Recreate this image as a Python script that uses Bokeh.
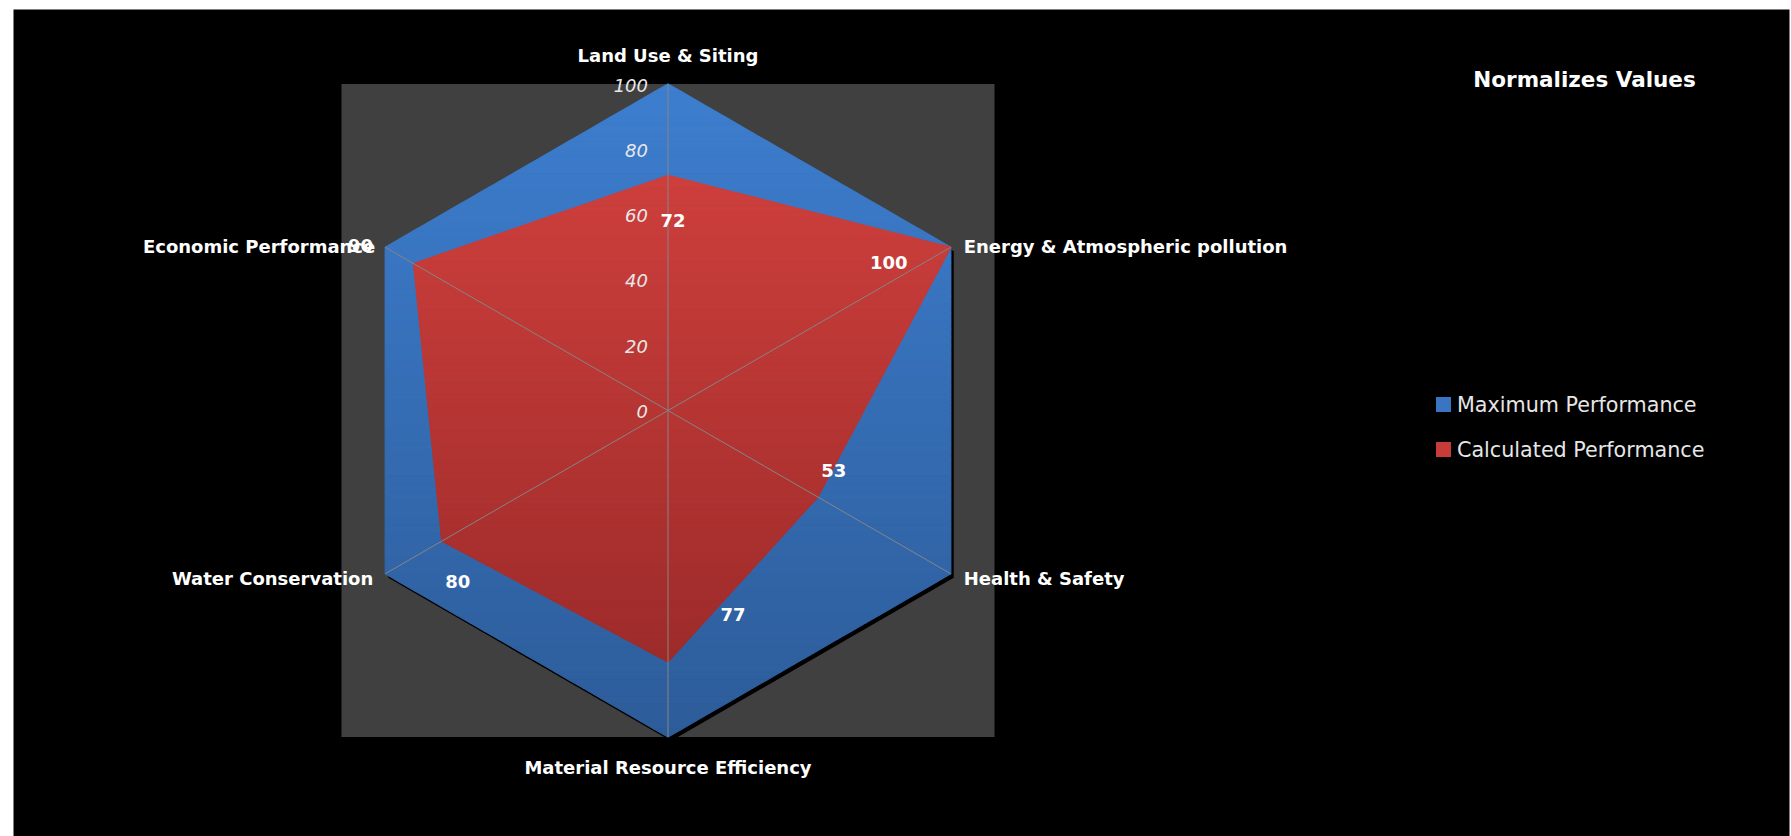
import numpy as np
from bokeh.plotting import figure
from bokeh.models import Range1d, ColumnDataSource
from bokeh.core.properties import value
from bokeh.embed import file_html
from bokeh.resources import INLINE

# ---------------- data ----------------
categories = ["Land Use & Siting", "Energy & Atmospheric pollution", "Health & Safety",
              "Material Resource Efficiency", "Water Conservation", "Economic Performance"]
maximum_performance = [100, 100, 100, 100, 100, 100]
calculated_performance = [72, 100, 53, 77, 80, 90]
axis_ticks = [0, 20, 40, 60, 80, 100]
series_names = ["Maximum Performance", "Calculated Performance"]
chart_title = "Normalizes Values"

# ---------------- layout / style ----------------
PAGE_OFF = 0
W, H = 1791, 836
BL, BR, BT, BB = 13, 2, 9, 0
FW, FH = W - BL - BR, H - BT - BB
PX = 3.265                      # pixels per value unit
CXp, CYp = 667.5, 410.0         # radar centre in page pixels
CX, CY = CXp - PAGE_OFF - BL, CYp - PAGE_OFF - BT
FONT = "DejaVu Sans"

def page_to_data(px, py):
    return (px - CXp) / PX, (CYp - py) / PX

p = figure(width=W, height=H,
           x_range=Range1d(-CX / PX, (FW - CX) / PX),
           y_range=Range1d(-(FH - CY) / PX, CY / PX),
           output_backend="svg", toolbar_location=None,
           x_axis_location=None, y_axis_location=None,
           min_border_left=BL, min_border_right=BR, min_border_top=BT, min_border_bottom=BB,
           background_fill_color="black", border_fill_color="white")
p.grid.visible = False
p.outline_line_color = None

R = max(axis_ticks)
n = len(categories)
ang = np.deg2rad(90 - 360.0 / n * np.arange(n))
ux, uy = np.cos(ang), np.sin(ang)

# plot area
p.quad(left=-R, right=R, bottom=-R, top=R, fill_color="#404040", line_color=None)

def clip_band(poly, y_lo, y_hi):
    def clip_half(pts, keep, yc):
        out = []
        m = len(pts)
        for i in range(m):
            a, b = pts[i], pts[(i + 1) % m]
            ka, kb = keep(a), keep(b)
            if ka:
                out.append(a)
            if ka != kb:
                t = (yc - a[1]) / (b[1] - a[1])
                out.append((a[0] + t * (b[0] - a[0]), yc))
        return out
    pts = clip_half(poly, lambda q: q[1] >= y_lo, y_lo)
    if pts:
        pts = clip_half(pts, lambda q: q[1] <= y_hi, y_hi)
    return pts

def hex2rgb(h):
    h = h.lstrip("#")
    return np.array([int(h[i:i + 2], 16) for i in (0, 2, 4)], dtype=float)

def gradient_patches(xs, ys, c_top, c_bot, nb=80):
    poly = list(zip(xs, ys))
    ylo, yhi = min(ys), max(ys)
    ct, cb = hex2rgb(c_top), hex2rgb(c_bot)
    PXs, PYs, cols = [], [], []
    edges = np.linspace(yhi, ylo, nb + 1)
    for i in range(nb):
        pts = clip_band(poly, edges[i + 1], edges[i])
        if len(pts) < 3:
            continue
        t = (i + 0.5) / nb
        c = ct + (cb - ct) * t
        cols.append("#%02x%02x%02x" % tuple(int(round(v)) for v in c))
        PXs.append([q[0] for q in pts])
        PYs.append([q[1] for q in pts])
    p.patches(PXs, PYs, fill_color=cols, line_color=cols, line_width=1.3)

mx = np.array(maximum_performance) * ux
my = np.array(maximum_performance) * uy
cx_ = np.array(calculated_performance) * ux
cy_ = np.array(calculated_performance) * uy

# shadow of the outer series
p.patch(mx + 3 / PX, my - 4 / PX, fill_color="black", line_color=None)
gradient_patches(list(mx), list(my), "#3d7ecf", "#2d5c99")
gradient_patches(list(cx_), list(cy_), "#cd3f3c", "#9d2b2a")

# spokes
p.segment(x0=np.zeros(n), y0=np.zeros(n), x1=R * ux, y1=R * uy,
          line_color="#858585", line_width=1)

# radial tick labels
p.text(x=np.zeros(len(axis_ticks)), y=axis_ticks, text=[str(t) for t in axis_ticks],
       text_align="right", text_baseline="middle", x_offset=-20, y_offset=1,
       text_font=value(FONT), text_font_style="italic", text_font_size="18px",
       text_color="#e8e8e8")

# category labels
cat_src = ColumnDataSource(dict(
    x=R * ux, y=R * uy, text=categories,
    align=["center", "left", "left", "center", "right", "right"],
    xo=[0, 13, 13, 0, -12, -10],
    yo=[-29, -1, 5, 30, 5, -1],
))
p.text(x="x", y="y", text="text", source=cat_src, text_align="align",
       x_offset="xo", y_offset="yo", text_baseline="middle",
       text_font=value(FONT), text_font_style="bold", text_font_size="18px",
       text_color="white")

# data labels of calculated series
lab_src = ColumnDataSource(dict(
    x=cx_, y=cy_, text=[str(v) for v in calculated_performance],
    xo=[5, -62, 16, 65, 16, -53],
    yo=[45, 15, -27, -47, 40, -18],
))
p.text(x="x", y="y", text="text", source=lab_src, x_offset="xo", y_offset="yo",
       text_align="center", text_baseline="middle",
       text_font=value(FONT), text_font_style="bold", text_font_size="18px",
       text_color="white")

# legend title
tx, ty = page_to_data(1584, 79)
p.text(x=[tx], y=[ty], text=[chart_title], text_align="center", text_baseline="middle",
       text_font=value(FONT), text_font_style="bold", text_font_size="21.5px",
       text_color="white")

# legend entries
lx, _ = page_to_data(1443, 0)
ltx, _ = page_to_data(1456.5, 0)
ly = [page_to_data(0, 404)[1], page_to_data(0, 449)[1]]
p.rect(x=[lx, lx], y=ly, width=15, height=15, width_units="screen", height_units="screen",
       fill_color=["#3a75c4", "#c73c39"], line_color=None)
p.text(x=[ltx, ltx], y=ly, text=series_names, text_align="left", text_baseline="middle",
       text_font=value(FONT), text_font_size="20.7px", text_color="#e6e6e6")

open("out.html", "w").write(file_html(p, INLINE))
